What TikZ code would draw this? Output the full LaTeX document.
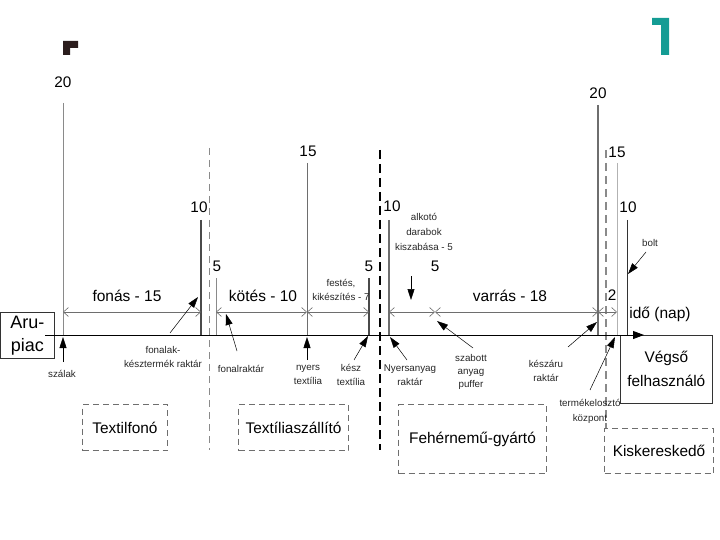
\documentclass[tikz,border=0pt]{standalone}
\usepackage{fontspec}
\setmainfont{Liberation Sans}
\usetikzlibrary{arrows.meta}
\definecolor{lgray}{HTML}{8A8A8A}
\definecolor{mgray}{HTML}{6E6E6E}
\definecolor{dgray}{HTML}{4A4A4A}
\definecolor{teal1}{HTML}{149C94}
\definecolor{brown1}{HTML}{2B1D1D}
\begin{document}
\begin{tikzpicture}[x=1pt,y=-1pt,
  num/.style={font=\fontsize{15.3}{17}\selectfont, inner sep=0pt},
  dimtxt/.style={font=\fontsize{15.5}{18}\selectfont, inner sep=0pt},
  small/.style={font=\fontsize{9.8}{14}\selectfont, inner sep=0pt, align=center, text=black!85},
  boxtxt/.style={font=\fontsize{15.4}{24}\selectfont, inner sep=0pt, align=center},
  dimline/.style={draw=mgray, line width=0.6pt, {Straight Barb[length=5pt,width=9pt]}-{Straight Barb[length=5pt,width=9pt]}},
  ptr/.style={draw=black, line width=0.5pt, -{Triangle[length=11pt,width=7pt]}},
  dashbox/.style={draw=mgray, line width=1pt, dash pattern=on 6pt off 4pt},
  dashline/.style={draw=lgray, line width=0.6pt, dash pattern=on 7pt off 5pt},
]
\useasboundingbox (0,0) rectangle (720,540);

% corner marks
\fill[brown1] (63,41) -- (78,41) -- (78,48) -- (70,48) -- (70,55) -- (63,55) -- cycle;
\fill[teal1] (652,18) -- (669,18) -- (669,55) -- (661,55) -- (661,25) -- (652,25) -- cycle;

% boxes
\node[draw=black!80, line width=0.7pt, anchor=north west, minimum width=53pt, minimum height=46pt, inner sep=0pt, align=center, font=\fontsize{18}{23}\selectfont] (aru) at (0.5,312) {Aru-\\piac};
\node[draw=black!80, line width=0.7pt, anchor=north west, minimum width=92pt, minimum height=68pt, inner sep=0pt, boxtxt] (vegso) at (620,335) {Végső\\felhasználó};

\node[dashbox, anchor=north west, minimum width=85pt, minimum height=46pt, inner sep=0pt] (fono) at (82,404) {};
\node[boxtxt] (fonot) at (fono.center) {Textilfonó};
\node[dashbox, anchor=north west, minimum width=110pt, minimum height=46pt, inner sep=0pt] (szall) at (238,404) {};
\node[boxtxt] (szallt) at (szall.center) {Textíliaszállító};
\node[dashbox, anchor=north west, minimum width=148pt, minimum height=69pt, inner sep=0pt] (feher) at (398,404) {};
\node[boxtxt] (fehert) at (feher.center) {Fehérnemű-gyártó};
\node[dashbox, anchor=north west, minimum width=109pt, minimum height=45pt, inner sep=0pt] (kisker) at (604,428) {};
\node[boxtxt] (kiskert) at (kisker.center) {Kiskereskedő};

% dashed separators
\coordinate (d1t) at (209,148); \coordinate (d1b) at (209,450);
\draw[dashline] (d1t) -- (d1b);
\coordinate (d2t) at (380,150); \coordinate (d2b) at (380,450);
\draw[draw=black, line width=1.1pt, dash pattern=on 9pt off 5pt] (d2t) -- (d2b);
\coordinate (d3t) at (606,150); \coordinate (d3b) at (606,428);
\draw[draw=lgray, line width=1.3pt, dash pattern=on 8pt off 5pt] (d3t) -- (d3b);

% vertical stock lines with labels
\node[num] (n1) at (63,82) {20};
\coordinate (v1t) at (63,103); \coordinate (v1b) at (63,335);
\draw[lgray, line width=0.6pt] (v1t) -- (v1b);

\node[num] (n2) at (199,207) {10};
\coordinate (v2t) at (201,220); \coordinate (v2b) at (201,335);
\draw[dgray, line width=1.3pt] (v2t) -- (v2b);

\node[num] (n3) at (217,266) {5};
\coordinate (v3t) at (216,278); \coordinate (v3b) at (216,335);
\draw[lgray, line width=0.7pt] (v3t) -- (v3b);

\node[num] (n4) at (308,151) {15};
\coordinate (v4t) at (307,163); \coordinate (v4b) at (307,335);
\draw[mgray, line width=1pt] (v4t) -- (v4b);

\node[num] (n5) at (369,266) {5};
\coordinate (v5t) at (369,278); \coordinate (v5b) at (369,335);
\draw[dgray, line width=2pt] (v5t) -- (v5b);

\node[num] (n6) at (392,206) {10};
\coordinate (v6t) at (389,220); \coordinate (v6b) at (389,335);
\draw[mgray, line width=1.5pt] (v6t) -- (v6b);

\node[num] (n7) at (598,93) {20};
\coordinate (v7t) at (598,105); \coordinate (v7b) at (598,335);
\draw[mgray, line width=2.2pt] (v7t) -- (v7b);

\node[num] (n8) at (617,152) {15};
\coordinate (v8t) at (617,163); \coordinate (v8b) at (617,335);
\draw[black!30, line width=0.6pt] (v8t) -- (v8b);

\node[num] (n9) at (628,207) {10};
\coordinate (v9t) at (627,220); \coordinate (v9b) at (627,335);
\draw[black!80, line width=0.8pt] (v9t) -- (v9b);

% time axis
\coordinate (ax0) at (45,335); \coordinate (ax1) at (644,335);
\draw[black, line width=0.9pt, -{Triangle[length=11pt,width=8pt]}] (ax0) -- (ax1);
\node[dimtxt] (ido) at (660,314) {idő (nap)};

% dimension lines
\coordinate (m1) at (63,312);  \coordinate (m2) at (201,312);
\coordinate (m3) at (216,312); \coordinate (m4) at (307,312);
\coordinate (m5) at (369,312); \coordinate (m6) at (389,312);
\coordinate (m7) at (435,312); \coordinate (m8) at (598,312);
\coordinate (m9) at (617,312);
\draw[dimline] (m1) -- (m2);
\draw[dimline] (m3) -- (m4);
\draw[dimline] (m4) -- (m5);
\draw[dimline] (m6) -- (m7);
\draw[dimline] (m7) -- (m8);
\draw[dimline] (m8) -- (m9);

\node[dimtxt] (fonas) at (127,296) {fonás - 15};
\node[dimtxt] (kotes) at (263,296) {kötés - 10};
\node[small] (festes) at (341,290) {festés,\\kikészítés - 7};
\node[dimtxt] (varras) at (510,296) {varrás - 18};
\node[num] (n5b) at (435,266) {5};
\node[num] (n2b) at (612,295) {2};
\node[small, font=\fontsize{9.8}{15}\selectfont] (alkoto) at (424,232) {alkotó\\darabok\\kiszabása - 5};

% pointer labels
\node[small] (szalak) at (62,374) {szálak};
\node[small] (fonalak) at (163,357) {fonalak-\\késztermék raktár};
\node[small] (fonalr) at (241,369) {fonalraktár};
\node[small] (nyers) at (308,375) {nyers\\textília};
\node[small] (kesz) at (351,375) {kész\\textília};
\node[small] (nyersa) at (410,375) {Nyersanyag\\raktár};
\node[small, font=\fontsize{9.8}{13}\selectfont] (szabott) at (471,372) {szabott\\anyag\\puffer};
\node[small] (keszaru) at (546,371) {készáru\\raktár};
\node[small, font=\fontsize{9.8}{15}\selectfont] (termek) at (590,411) {termékelosztó\\központ};
\node[small] (bolt) at (650,243) {bolt};

% pointers
\coordinate (p1a) at (63,362);  \coordinate (p1b) at (63,337);
\draw[ptr] (p1a) -- (p1b);
\coordinate (p2a) at (170,333); \coordinate (p2b) at (198,297);
\draw[ptr] (p2a) -- (p2b);
\coordinate (p3a) at (237,351); \coordinate (p3b) at (226,314);
\draw[ptr] (p3a) -- (p3b);
\coordinate (p4a) at (307,360); \coordinate (p4b) at (307,337);
\draw[ptr] (p4a) -- (p4b);
\coordinate (p5a) at (354,360); \coordinate (p5b) at (368,336);
\draw[ptr] (p5a) -- (p5b);
\coordinate (p6a) at (407,360); \coordinate (p6b) at (390,337);
\draw[ptr] (p6a) -- (p6b);
\coordinate (p7a) at (473,348); \coordinate (p7b) at (437,321);
\draw[ptr] (p7a) -- (p7b);
\coordinate (p8a) at (568,347); \coordinate (p8b) at (597,322);
\draw[ptr] (p8a) -- (p8b);
\coordinate (p9a) at (590,390); \coordinate (p9b) at (615,337);
\draw[ptr] (p9a) -- (p9b);
\coordinate (p10a) at (646,252); \coordinate (p10b) at (628,274);
\draw[ptr] (p10a) -- (p10b);
\coordinate (p11a) at (411,276); \coordinate (p11b) at (411,300);
\draw[ptr] (p11a) -- (p11b);
\end{tikzpicture}
\end{document}
